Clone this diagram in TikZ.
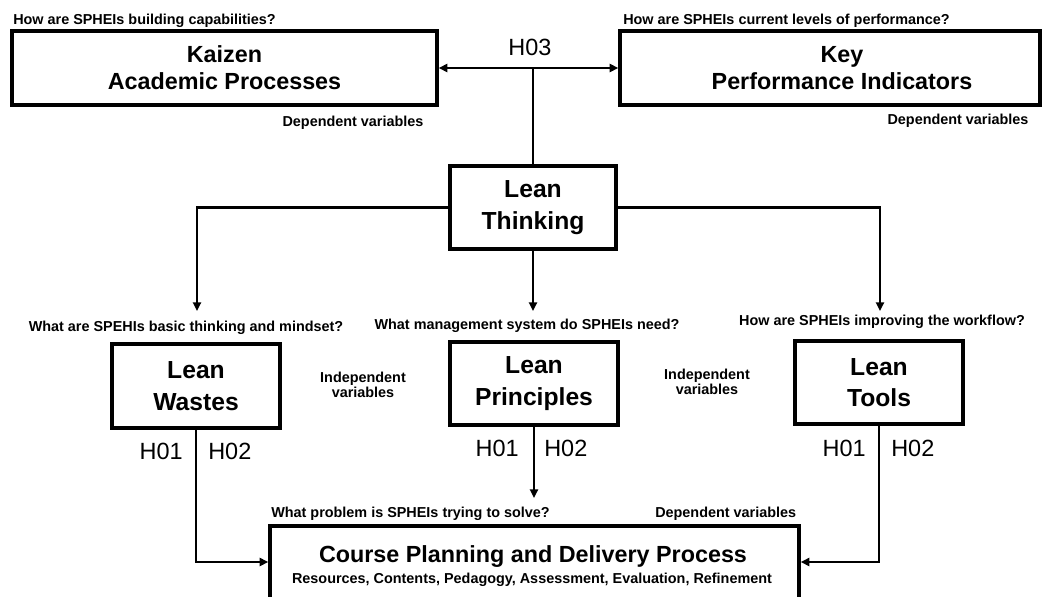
\documentclass[tikz,border=0pt]{standalone}
\usepackage{fontspec}
\setmainfont{Liberation Sans}
\usetikzlibrary{arrows.meta}
\begin{document}
\begin{tikzpicture}[x=0.75pt,y=-0.75pt,
  box/.style={draw, line width=2.5pt, align=center, inner sep=0pt, font=\fontsize{17.5}{20.25}\selectfont\bfseries},
  midbox/.style={box, minimum width=126pt, font=\fontsize{18.5}{23.5}\selectfont\bfseries},
  boxtext/.style={inner sep=0pt, align=center, font=\fontsize{17.5}{20.25}\selectfont\bfseries},
  q/.style={inner sep=0pt, font=\fontsize{10.8}{11.25}\selectfont\bfseries},
  hlab/.style={inner sep=0pt, font=\fontsize{17.6}{20}\selectfont},
  conn/.style={line width=2.2pt},
  tip/.style={-{Triangle[length=6.5pt,width=6pt]}},
  arr/.style={conn, tip},
]
\useasboundingbox (0,0) rectangle (1042,596);
\clip (0,0) rectangle (1042,596);

% boxes
\node[box, minimum width=318.75pt, minimum height=55.5pt] (kaizen) at (224.5,68) {Kaizen\\Academic Processes};
\node[box, minimum width=315pt, minimum height=55.5pt] (kpi) at (830,68) {};
\node[boxtext] (kpitext) at (842,68) {Key\\Performance Indicators};
\node[box, minimum width=124.5pt, minimum height=62.25pt, font=\fontsize{18.5}{23.5}\selectfont\bfseries] (thinking) at (533,207.5) {Lean\\Thinking};
\node[midbox, minimum height=63pt] (wastes) at (196,386) {Lean\\Wastes};
\node[midbox, minimum height=62.25pt] (principles) at (534,383.5) {Lean\\Principles};
\node[midbox, minimum height=62.25pt] (tools) at (879,382.5) {Lean\\Tools};
\node[box, minimum width=396.75pt, minimum height=60pt] (course) at (534.5,566) {};
\node[boxtext, anchor=base] (coursetitle) at (533,562) {Course Planning and Delivery Process};
\node[q, anchor=base] (coursesub) at (532,583) {Resources, Contents, Pedagogy, Assessment, Evaluation, Refinement};

% texts
\node[q, anchor=base west] (q1) at (13,24) {How are SPHEIs building capabilities?};
\node[q, anchor=base west] (q2) at (623,24) {How are SPHEIs current levels of performance?};
\node[hlab, anchor=base] (h03) at (530,55) {H03};
\node[q, anchor=base] (dv1) at (353,126) {Dependent variables};
\node[q, anchor=base] (dv2) at (958,124) {Dependent variables};
\node[q, anchor=base] (q3) at (186,331) {What are SPEHIs basic thinking and mindset?};
\node[q, anchor=base] (q4) at (527,329) {What management system do SPHEIs need?};
\node[q, anchor=base] (q5) at (882,325) {How are SPHEIs improving the workflow?};
\node[q, align=center] (iv1) at (363,385) {Independent\\variables};
\node[q, align=center] (iv2) at (707,382) {Independent\\variables};
\node[hlab, anchor=base east] (w1) at (183,459) {H01};
\node[hlab, anchor=base west] (w2) at (208,459) {H02};
\node[hlab, anchor=base east] (p1) at (519,456) {H01};
\node[hlab, anchor=base west] (p2) at (544,456) {H02};
\node[hlab, anchor=base east] (t1) at (866,456) {H01};
\node[hlab, anchor=base west] (t2) at (891,456) {H02};
\node[q, anchor=base west] (q6) at (271,517) {What problem is SPHEIs trying to solve?};
\node[q, anchor=base west] (dv3) at (655,517) {Dependent variables};

% connectors
\coordinate (a1) at (197,311);
\coordinate (a2) at (533,311);
\coordinate (a3) at (880,311);
\coordinate (a4) at (534,498);
\draw[conn, {Triangle[length=6.5pt,width=6pt]}-{Triangle[length=6.5pt,width=6pt]}] (kaizen.east) -- (kpi.west);
\draw[conn] (thinking.north) -- (thinking.north |- kaizen.east);
\draw[arr] (thinking.west) -| (a1);
\draw[arr] (thinking.south) -- (a2);
\draw[arr] (thinking.east) -| (a3);
\draw[arr] (principles.south) -- (a4);
\draw[arr] (wastes.south) |- ([yshift=3pt]course.west);
\draw[arr] (tools.south) |- ([yshift=3pt]course.east);
\end{tikzpicture}
\end{document}
